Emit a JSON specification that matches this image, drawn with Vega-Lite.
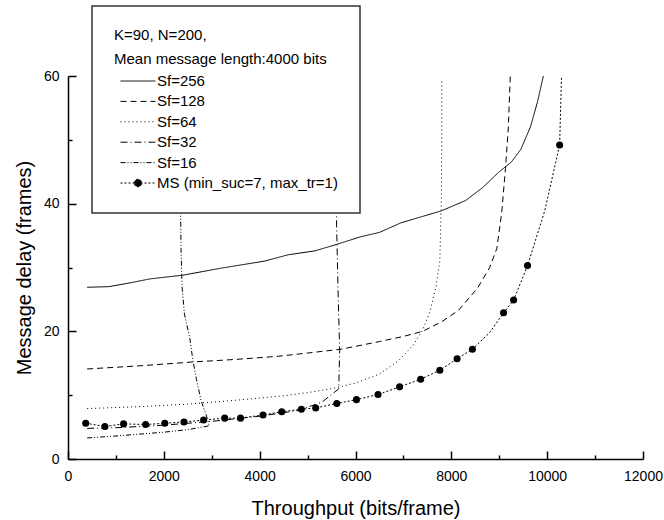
{
  "$schema": "https://vega.github.io/schema/vega-lite/v6.json",
  "width": 575,
  "height": 383,
  "padding": {"left": 14, "top": 5, "right": 5, "bottom": 5},
  "config": {
    "view": {"stroke": null},
    "font": "Liberation Sans",
    "axis": {"domainColor": "black", "tickColor": "black", "labelColor": "black", "titleColor": "black", "labelFont": "Liberation Sans", "titleFont": "Liberation Sans", "grid": false}
  },
  "datasets": {
    "curves": [
      {"series": "Sf=256", "i": 0, "x": 400, "y": 26.9},
      {"series": "Sf=256", "i": 1, "x": 850, "y": 27.0},
      {"series": "Sf=256", "i": 2, "x": 1300, "y": 27.6},
      {"series": "Sf=256", "i": 3, "x": 1700, "y": 28.2},
      {"series": "Sf=256", "i": 4, "x": 2400, "y": 28.8},
      {"series": "Sf=256", "i": 5, "x": 3200, "y": 29.9},
      {"series": "Sf=256", "i": 6, "x": 4100, "y": 31.0},
      {"series": "Sf=256", "i": 7, "x": 4600, "y": 32.0},
      {"series": "Sf=256", "i": 8, "x": 5150, "y": 32.6},
      {"series": "Sf=256", "i": 9, "x": 5600, "y": 33.6},
      {"series": "Sf=256", "i": 10, "x": 6100, "y": 34.8},
      {"series": "Sf=256", "i": 11, "x": 6500, "y": 35.5},
      {"series": "Sf=256", "i": 12, "x": 6950, "y": 37.0},
      {"series": "Sf=256", "i": 13, "x": 7400, "y": 38.0},
      {"series": "Sf=256", "i": 14, "x": 7800, "y": 38.9},
      {"series": "Sf=256", "i": 15, "x": 8300, "y": 40.5},
      {"series": "Sf=256", "i": 16, "x": 8650, "y": 42.5},
      {"series": "Sf=256", "i": 17, "x": 9000, "y": 45.0},
      {"series": "Sf=256", "i": 18, "x": 9250, "y": 46.5},
      {"series": "Sf=256", "i": 19, "x": 9450, "y": 48.5},
      {"series": "Sf=256", "i": 20, "x": 9650, "y": 52},
      {"series": "Sf=256", "i": 21, "x": 9800, "y": 56},
      {"series": "Sf=256", "i": 22, "x": 9920, "y": 60},

      {"series": "Sf=128", "i": 0, "x": 400, "y": 14.1},
      {"series": "Sf=128", "i": 1, "x": 1500, "y": 14.6},
      {"series": "Sf=128", "i": 2, "x": 2600, "y": 15.2},
      {"series": "Sf=128", "i": 3, "x": 3500, "y": 15.6},
      {"series": "Sf=128", "i": 4, "x": 4400, "y": 16.1},
      {"series": "Sf=128", "i": 5, "x": 5000, "y": 16.6},
      {"series": "Sf=128", "i": 6, "x": 5700, "y": 17.2},
      {"series": "Sf=128", "i": 7, "x": 6500, "y": 18.4},
      {"series": "Sf=128", "i": 8, "x": 7000, "y": 19.2},
      {"series": "Sf=128", "i": 9, "x": 7400, "y": 20.0},
      {"series": "Sf=128", "i": 10, "x": 7800, "y": 21.5},
      {"series": "Sf=128", "i": 11, "x": 8150, "y": 23.3},
      {"series": "Sf=128", "i": 12, "x": 8550, "y": 26.8},
      {"series": "Sf=128", "i": 13, "x": 8800, "y": 30},
      {"series": "Sf=128", "i": 14, "x": 8950, "y": 33},
      {"series": "Sf=128", "i": 15, "x": 9050, "y": 38.5},
      {"series": "Sf=128", "i": 16, "x": 9130, "y": 45.5},
      {"series": "Sf=128", "i": 17, "x": 9190, "y": 52},
      {"series": "Sf=128", "i": 18, "x": 9230, "y": 60},

      {"series": "Sf=64", "i": 0, "x": 400, "y": 7.9},
      {"series": "Sf=64", "i": 1, "x": 1500, "y": 8.2},
      {"series": "Sf=64", "i": 2, "x": 2500, "y": 8.6},
      {"series": "Sf=64", "i": 3, "x": 3500, "y": 9.2},
      {"series": "Sf=64", "i": 4, "x": 4500, "y": 9.9},
      {"series": "Sf=64", "i": 5, "x": 5000, "y": 10.4},
      {"series": "Sf=64", "i": 6, "x": 5500, "y": 11.0},
      {"series": "Sf=64", "i": 7, "x": 6000, "y": 11.9},
      {"series": "Sf=64", "i": 8, "x": 6500, "y": 13.3},
      {"series": "Sf=64", "i": 9, "x": 6900, "y": 15.4},
      {"series": "Sf=64", "i": 10, "x": 7200, "y": 17.8},
      {"series": "Sf=64", "i": 11, "x": 7400, "y": 20.2},
      {"series": "Sf=64", "i": 12, "x": 7550, "y": 23},
      {"series": "Sf=64", "i": 13, "x": 7680, "y": 27},
      {"series": "Sf=64", "i": 14, "x": 7760, "y": 31},
      {"series": "Sf=64", "i": 15, "x": 7790, "y": 40},
      {"series": "Sf=64", "i": 16, "x": 7800, "y": 50},
      {"series": "Sf=64", "i": 17, "x": 7800, "y": 59.3},

      {"series": "Sf=32", "i": 0, "x": 400, "y": 4.8},
      {"series": "Sf=32", "i": 1, "x": 1000, "y": 4.9},
      {"series": "Sf=32", "i": 2, "x": 2000, "y": 5.3},
      {"series": "Sf=32", "i": 3, "x": 3000, "y": 5.9},
      {"series": "Sf=32", "i": 4, "x": 4000, "y": 6.7},
      {"series": "Sf=32", "i": 5, "x": 4800, "y": 7.6},
      {"series": "Sf=32", "i": 6, "x": 5300, "y": 8.9},
      {"series": "Sf=32", "i": 7, "x": 5650, "y": 11.0},
      {"series": "Sf=32", "i": 8, "x": 5670, "y": 17},
      {"series": "Sf=32", "i": 9, "x": 5640, "y": 25},
      {"series": "Sf=32", "i": 10, "x": 5600, "y": 38.6},
      {"series": "Sf=32", "i": 11, "x": 5570, "y": 60},

      {"series": "Sf=16", "i": 0, "x": 400, "y": 3.3},
      {"series": "Sf=16", "i": 1, "x": 1000, "y": 3.6},
      {"series": "Sf=16", "i": 2, "x": 1500, "y": 3.9},
      {"series": "Sf=16", "i": 3, "x": 2000, "y": 4.2},
      {"series": "Sf=16", "i": 4, "x": 2500, "y": 4.6},
      {"series": "Sf=16", "i": 5, "x": 2950, "y": 5.2},
      {"series": "Sf=16", "i": 6, "x": 2880, "y": 7.0},
      {"series": "Sf=16", "i": 7, "x": 2780, "y": 9.1},
      {"series": "Sf=16", "i": 8, "x": 2680, "y": 12.5},
      {"series": "Sf=16", "i": 9, "x": 2600, "y": 15.8},
      {"series": "Sf=16", "i": 10, "x": 2540, "y": 19},
      {"series": "Sf=16", "i": 11, "x": 2430, "y": 22.7},
      {"series": "Sf=16", "i": 12, "x": 2380, "y": 27},
      {"series": "Sf=16", "i": 13, "x": 2360, "y": 32.6},
      {"series": "Sf=16", "i": 14, "x": 2350, "y": 38.5},
      {"series": "Sf=16", "i": 15, "x": 2340, "y": 60},

      {"series": "MS (min_suc=7, max_tr=1)", "i": 0, "x": 370, "y": 5.6},
      {"series": "MS (min_suc=7, max_tr=1)", "i": 1, "x": 770, "y": 5.1},
      {"series": "MS (min_suc=7, max_tr=1)", "i": 2, "x": 1160, "y": 5.5},
      {"series": "MS (min_suc=7, max_tr=1)", "i": 3, "x": 1620, "y": 5.4},
      {"series": "MS (min_suc=7, max_tr=1)", "i": 4, "x": 2020, "y": 5.6},
      {"series": "MS (min_suc=7, max_tr=1)", "i": 5, "x": 2420, "y": 5.8},
      {"series": "MS (min_suc=7, max_tr=1)", "i": 6, "x": 2830, "y": 6.1},
      {"series": "MS (min_suc=7, max_tr=1)", "i": 7, "x": 3270, "y": 6.4},
      {"series": "MS (min_suc=7, max_tr=1)", "i": 8, "x": 3600, "y": 6.4},
      {"series": "MS (min_suc=7, max_tr=1)", "i": 9, "x": 4070, "y": 6.9},
      {"series": "MS (min_suc=7, max_tr=1)", "i": 10, "x": 4460, "y": 7.4},
      {"series": "MS (min_suc=7, max_tr=1)", "i": 11, "x": 4870, "y": 7.8},
      {"series": "MS (min_suc=7, max_tr=1)", "i": 12, "x": 5170, "y": 8.0},
      {"series": "MS (min_suc=7, max_tr=1)", "i": 13, "x": 5610, "y": 8.7},
      {"series": "MS (min_suc=7, max_tr=1)", "i": 14, "x": 6020, "y": 9.3},
      {"series": "MS (min_suc=7, max_tr=1)", "i": 15, "x": 6470, "y": 10.1},
      {"series": "MS (min_suc=7, max_tr=1)", "i": 16, "x": 6920, "y": 11.3},
      {"series": "MS (min_suc=7, max_tr=1)", "i": 17, "x": 7360, "y": 12.5},
      {"series": "MS (min_suc=7, max_tr=1)", "i": 18, "x": 7760, "y": 13.9},
      {"series": "MS (min_suc=7, max_tr=1)", "i": 19, "x": 8120, "y": 15.7},
      {"series": "MS (min_suc=7, max_tr=1)", "i": 20, "x": 8440, "y": 17.2},
      {"series": "MS (min_suc=7, max_tr=1)", "i": 21, "x": 8800, "y": 19.8},
      {"series": "MS (min_suc=7, max_tr=1)", "i": 22, "x": 9090, "y": 22.9},
      {"series": "MS (min_suc=7, max_tr=1)", "i": 23, "x": 9300, "y": 24.9},
      {"series": "MS (min_suc=7, max_tr=1)", "i": 24, "x": 9590, "y": 30.3},
      {"series": "MS (min_suc=7, max_tr=1)", "i": 25, "x": 9950, "y": 38.9},
      {"series": "MS (min_suc=7, max_tr=1)", "i": 26, "x": 10260, "y": 49.2},
      {"series": "MS (min_suc=7, max_tr=1)", "i": 27, "x": 10300, "y": 60}
    ],
    "dots": [
      {"x": 370, "y": 5.6}, {"x": 770, "y": 5.1}, {"x": 1160, "y": 5.5}, {"x": 1620, "y": 5.4},
      {"x": 2020, "y": 5.6}, {"x": 2420, "y": 5.8}, {"x": 2830, "y": 6.1}, {"x": 3270, "y": 6.4},
      {"x": 3600, "y": 6.4}, {"x": 4070, "y": 6.9}, {"x": 4460, "y": 7.4}, {"x": 4870, "y": 7.8},
      {"x": 5170, "y": 8.0}, {"x": 5610, "y": 8.7}, {"x": 6020, "y": 9.3}, {"x": 6470, "y": 10.1},
      {"x": 6920, "y": 11.3}, {"x": 7360, "y": 12.5}, {"x": 7760, "y": 13.9}, {"x": 8120, "y": 15.7},
      {"x": 8440, "y": 17.2}, {"x": 9090, "y": 22.9}, {"x": 9300, "y": 24.9}, {"x": 9590, "y": 30.3},
      {"x": 10260, "y": 49.2}
    ]
  },
  "layer": [
    {
      "data": {"name": "curves"},
      "mark": {"type": "line", "color": "black", "strokeWidth": 1},
      "encoding": {
        "x": {
          "field": "x", "type": "quantitative",
          "scale": {"domain": [0, 12000], "nice": false},
          "axis": {"values": [0, 2000, 4000, 6000, 8000, 10000, 12000], "tickSize": -8, "tickWidth": 1.5, "domainWidth": 1.5, "labelPadding": 18, "labelFontSize": 14, "labelFlush": false, "title": "Throughput (bits/frame)", "titleFontSize": 20, "titleFontWeight": "normal", "titlePadding": 15, "format": "d"}
        },
        "y": {
          "field": "y", "type": "quantitative",
          "scale": {"domain": [0, 60], "nice": false},
          "axis": {"values": [0, 20, 40, 60], "tickSize": -8, "tickWidth": 1.5, "domainWidth": 1.5, "labelPadding": 17, "labelFontSize": 14, "labelFlush": false, "title": "Message delay (frames)", "titleFontSize": 20, "titleFontWeight": "normal", "titlePadding": 9}
        },
        "order": {"field": "i"},
        "strokeDash": {
          "field": "series", "type": "nominal",
          "scale": {
            "domain": ["Sf=256", "Sf=128", "Sf=64", "Sf=32", "Sf=16", "MS (min_suc=7, max_tr=1)"],
            "range": [[1, 0], [6, 4], [1, 3], [7, 3, 1, 3], [5, 2, 1, 2, 1, 2], [2, 2]]
          },
          "legend": {
            "orient": "none", "legendX": 24, "legendY": -70,
            "title": ["K=90, N=200,", "Mean message length:4000 bits"],
            "titleFont": "Liberation Sans", "titleFontSize": 15, "titleFontWeight": "normal", "titleColor": "black", "titleLineHeight": 24, "titlePadding": 6, "titleLimit": 500,
            "labelFont": "Liberation Sans", "labelFontSize": 15, "labelColor": "black", "labelLimit": 500,
            "symbolSize": 225, "symbolStrokeWidth": 1, "symbolStrokeColor": "black",
            "rowPadding": 4.4, "labelOffset": 11, "symbolOffset": 16,
            "padding": 22, "fillColor": "white", "strokeColor": "#333333",
            "encode": {
              "legend": {"update": {"strokeWidth": {"value": 1.5}}},
              "symbols": {
                "update": {
                  "shape": {"signal": "datum.value === 'MS (min_suc=7, max_tr=1)' ? 'M-2.333,0H2.333M-0.5,0A0.5,0.5,0,1,1,0.5,0A0.5,0.5,0,1,1,-0.5,0Z' : 'M-2.333,0H2.333'"},
                  "fill": {"signal": "datum.value === 'MS (min_suc=7, max_tr=1)' ? 'black' : 'transparent'"},
                  "stroke": {"value": "black"}
                }
              }
            }
          }
        }
      }
    },
    {
      "data": {"name": "dots"},
      "mark": {"type": "point", "filled": true, "color": "black", "size": 50, "opacity": 1},
      "encoding": {
        "x": {"field": "x", "type": "quantitative", "axis": {"orient": "bottom", "values": [1000, 3000, 5000, 7000, 9000, 11000], "labels": false, "domain": false, "tickSize": -4, "tickWidth": 1.5, "title": null}},
        "y": {"field": "y", "type": "quantitative", "axis": {"orient": "left", "values": [10, 30, 50], "labels": false, "domain": false, "tickSize": -4, "tickWidth": 1.5, "title": null}}
      }
    }
  ],
  "resolve": {"axis": {"x": "independent", "y": "independent"}}
}
